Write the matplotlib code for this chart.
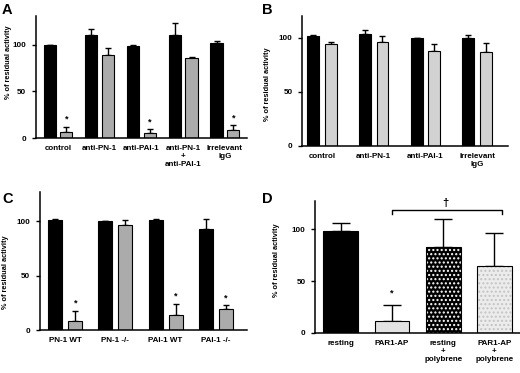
import numpy as np
import matplotlib
matplotlib.use("Agg")
import matplotlib.pyplot as plt

plt.rcParams['font.family'] = ['Liberation Sans', 'DejaVu Sans']
plt.rcParams['font.weight'] = 'bold'

# Panel A - antibody treatments
a_groups = ["control", "anti-PN-1", "anti-PAI-1", "anti-PN-1\n+\nanti-PAI-1", "Irrelevant\nIgG"]
a_black = [100, 110.5, 99, 110.5, 101.8]
a_black_err = [0, 6.3, 0.6, 12.5, 2.3]
a_gray = [6.8, 89, 5, 85.7, 8.3]
a_gray_err = [5.3, 8, 4.7, 1.0, 5.7]
a_star = [True, False, True, False, True]

# Panel B
b_groups = ["control", "anti-PN-1", "anti-PAI-1", "Irrelevant\nIgG"]
b_black = [101.5, 103.4, 99.6, 100.2]
b_black_err = [1.0, 3.6, 0.5, 2.8]
b_gray = [94, 96.3, 88, 87]
b_gray_err = [2.6, 5.2, 6.4, 8.4]

# Panel C - knockout mice
c_groups = ["PN-1 WT", "PN-1 -/-", "PAI-1 WT", "PAI-1 -/-"]
c_black = [101, 100, 101, 93.3]
c_black_err = [1.5, 0, 1.5, 9.2]
c_gray = [8.5, 96.3, 13.8, 19.5]
c_gray_err = [8.9, 5.3, 10.1, 3.2]
c_star = [True, False, True, True]

# Panel D - PAR1-AP / polybrene
d_groups = ["resting", "PAR1-AP", "resting\n+\npolybrene", "PAR1-AP\n+\npolybrene"]
d_vals = [98, 11.6, 82.6, 64.5]
d_err = [8, 15.2, 27.1, 32.2]

GRAY_AC = "#ababab"
GRAY_B = "#d2d2d2"
FS = 5.8

fig = plt.figure(figsize=(5.2, 3.73), dpi=100)


def style(ax, ylim, xlim, labels, lab_xy):
    ax.spines["top"].set_visible(False)
    ax.spines["right"].set_visible(False)
    ax.spines["left"].set_linewidth(1.1)
    ax.spines["bottom"].set_linewidth(1.1)
    ax.set_ylim(*ylim)
    ax.set_xlim(*xlim)
    ax.set_yticks([0, 50, 100])
    ax.tick_params(axis="y", direction="out", length=3, width=1, labelsize=FS, pad=4)
    ax.tick_params(axis="x", length=0, labelsize=FS, pad=5)
    ax.set_xticks(range(len(labels)))
    ax.set_xticklabels(labels, fontweight="bold", linespacing=1.25)
    for t in ax.get_yticklabels():
        t.set_fontweight("bold")
    ax.set_ylabel("% of residual activity", fontsize=5.3, fontweight="bold")
    ax.yaxis.set_label_coords(*lab_xy)


def paired(ax, black, black_err, gray, gray_err, off, w, gcol, stars=None):
    x = np.arange(len(black))
    ax.bar(x - off, black, w, color="black", edgecolor="black", lw=0.8, zorder=2)
    ax.bar(x + off, gray, w, color=gcol, edgecolor="black", lw=0.8, zorder=2)
    ax.errorbar(x - off, black, yerr=[np.zeros(len(black)), black_err], fmt="none",
                ecolor="black", elinewidth=1, capsize=2.5, capthick=1, zorder=1)
    ax.errorbar(x + off, gray, yerr=[np.zeros(len(gray)), gray_err], fmt="none",
                ecolor="black", elinewidth=1, capsize=2.5, capthick=1, zorder=1)
    if stars:
        for i, s in enumerate(stars):
            if s:
                ax.text(x[i] + off, gray[i] + gray_err[i] + 3, "*", ha="center",
                        va="bottom", fontsize=6.5, fontweight="bold")


# A
axA = fig.add_axes([0.069, 0.630, 0.406, 0.327])
paired(axA, a_black, a_black_err, a_gray, a_gray_err, 0.2, 0.29, GRAY_AC, a_star)
style(axA, (0, 131), (-0.53, 4.53), a_groups, (-0.115, 0.62))

# B
axB = fig.add_axes([0.581, 0.609, 0.396, 0.347])
paired(axB, b_black, b_black_err, b_gray, b_gray_err, 0.17, 0.23, GRAY_B)
style(axB, (0, 120), (-0.385, 3.6), b_groups, (-0.15, 0.48))

# C
axC = fig.add_axes([0.077, 0.115, 0.398, 0.370])
paired(axC, c_black, c_black_err, c_gray, c_gray_err, 0.2, 0.28, GRAY_AC, c_star)
style(axC, (0, 127), (-0.5, 3.62), c_groups, (-0.152, 0.42))

# D
axD = fig.add_axes([0.606, 0.108, 0.394, 0.352])
xd = np.arange(len(d_vals))
wd = 0.68
axD.errorbar(xd, d_vals, yerr=[np.zeros(len(d_vals)), d_err], fmt="none",
             ecolor="black", elinewidth=1, capsize=6.5, capthick=1, zorder=1)
axD.bar(xd[0], d_vals[0], wd, color="black", edgecolor="black", lw=0.8, zorder=2)
axD.bar(xd[1], d_vals[1], wd, color="#e2e2e2", edgecolor="black", lw=0.8, zorder=2)
axD.bar(xd[2], d_vals[2], wd, color="black", edgecolor="white", hatch="....", lw=0, zorder=2)
axD.bar(xd[2], d_vals[2], wd, fill=False, edgecolor="black", lw=0.8, zorder=3)
axD.bar(xd[3], d_vals[3], wd, color="#ececec", edgecolor="#c4c4c4", hatch="....", lw=0, zorder=2)
axD.bar(xd[3], d_vals[3], wd, fill=False, edgecolor="black", lw=0.8, zorder=3)
axD.text(xd[1], d_vals[1] + d_err[1] + 7, "*", ha="center", va="bottom", fontsize=6.5, fontweight="bold")
# bracket between PAR1-AP and PAR1-AP + polybrene
axD.plot([1, 1, 3.15, 3.15], [115, 119, 119, 115], color="black", lw=1, clip_on=False)
axD.text(2.05, 121, "\u2020", ha="center", va="bottom", fontsize=8, clip_on=False)
style(axD, (0, 127), (-0.5, 3.5), d_groups, (-0.17, 0.55))

# panel letters
for lab, x, y in [("A", 0.004, 0.955), ("B", 0.503, 0.955), ("C", 0.004, 0.448), ("D", 0.503, 0.448)]:
    fig.text(x, y, lab, fontsize=10.5, fontweight="bold", ha="left", va="bottom")

plt.savefig("out.png", dpi=100)
